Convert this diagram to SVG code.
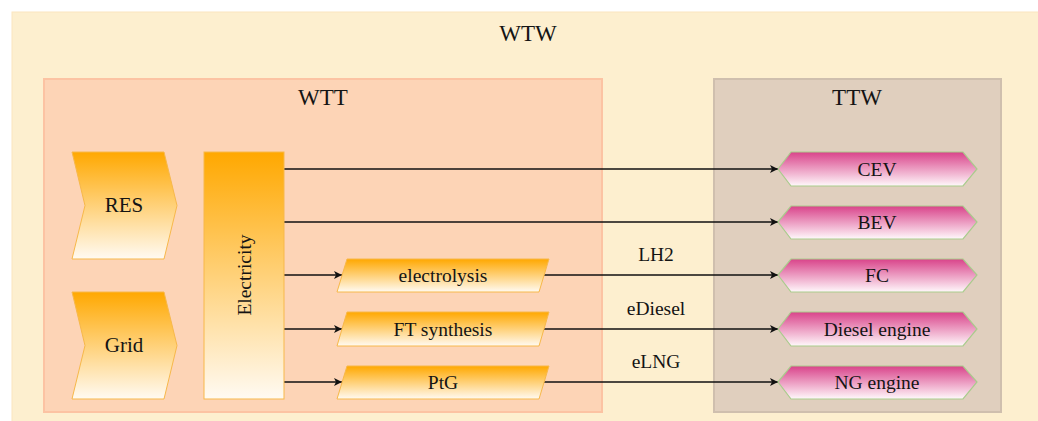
<svg xmlns="http://www.w3.org/2000/svg" width="1038" height="421" viewBox="0 0 1038 421">
<style>
text{font-family:"Liberation Serif","DejaVu Serif",serif;fill:#141414;text-anchor:middle;dominant-baseline:central}
.title{font-size:23px}
.lbl{font-size:19.5px}
.src{fill:url(#gOr);stroke:#f7b84a;stroke-width:1}
.veh{fill:url(#gPk);stroke:#a9cc8c;stroke-width:1.2}
.con{stroke:#111;stroke-width:1.3;fill:none;marker-end:url(#arr)}
</style>
<defs>
<linearGradient id="gOr" x1="0" y1="0" x2="0" y2="1">
<stop offset="0" stop-color="#ffa800"/>
<stop offset="1" stop-color="#fffaf2"/>
</linearGradient>
<linearGradient id="gPk" x1="0" y1="0" x2="0" y2="1">
<stop offset="0" stop-color="#d9438a"/>
<stop offset="1" stop-color="#fff8fb"/>
</linearGradient>
<marker id="arr" viewBox="0 0 10 10" refX="10" refY="5" markerWidth="8" markerHeight="8" markerUnits="userSpaceOnUse" orient="auto">
<path d="M0,0 L10,5 L0,10 L2.5,5 Z" fill="#111"/>
</marker>
</defs>
<g id="wtw">
<rect x="12" y="12" width="1030" height="412" fill="#fdefcf" stroke="#fbe6c0" stroke-width="1"/>
<text class="title" x="528" y="33">WTW</text>
</g>
<g id="wtt">
<rect x="44" y="79" width="558" height="333" fill="#fdd4b6" stroke="#fcc3a3" stroke-width="2"/>
<text class="title" x="323" y="97">WTT</text>
</g>
<g id="ttw">
<rect x="714" y="79" width="287" height="333" fill="#e0cfbe" stroke="#cfbfae" stroke-width="2"/>
<text class="title" x="857" y="97">TTW</text>
</g>
<g id="connectors">
<line class="con" x1="284" y1="169" x2="778" y2="169"/>
<line class="con" x1="284" y1="222" x2="778" y2="222"/>
<line class="con" x1="284" y1="275" x2="342" y2="275"/>
<line class="con" x1="284" y1="329" x2="342" y2="329"/>
<line class="con" x1="284" y1="382" x2="342" y2="382"/>
<line class="con" x1="544" y1="275" x2="778" y2="275"/>
<line class="con" x1="544" y1="329" x2="778" y2="329"/>
<line class="con" x1="544" y1="382" x2="778" y2="382"/>
<text class="lbl" x="656" y="254">LH2</text>
<text class="lbl" x="656" y="308">eDiesel</text>
<text class="lbl" x="656" y="361">eLNG</text>
</g>
<g id="res">
<polygon class="src" points="72,152 164,152 177,205.5 164,259 72,259 85,205.5"/>
<text class="lbl" x="124" y="205" style="font-size:21px">RES</text>
</g>
<g id="grid">
<polygon class="src" points="72,292 164,292 177,345.5 164,399 72,399 85,345.5"/>
<text class="lbl" x="124" y="345" style="font-size:21px">Grid</text>
</g>
<g id="electricity">
<rect class="src" x="204" y="152" width="80" height="247"/>
<text class="lbl" x="0" y="0" transform="translate(244,275) rotate(-90)">Electricity</text>
</g>
<g id="electrolysis">
<polygon class="src" points="347,259 549,259 539,292 337,292"/>
<text class="lbl" x="443" y="275">electrolysis</text>
</g>
<g id="ft">
<polygon class="src" points="347,312 549,312 539,346 337,346"/>
<text class="lbl" x="443" y="329">FT synthesis</text>
</g>
<g id="ptg">
<polygon class="src" points="347,366 549,366 539,399 337,399"/>
<text class="lbl" x="443" y="382">PtG</text>
</g>
<g id="cev">
<polygon class="veh" points="778,169 791,152 963,152 977,169 963,186 791,186"/>
<text class="lbl" x="877" y="169">CEV</text>
</g>
<g id="bev">
<polygon class="veh" points="778,222 791,206 963,206 977,222 963,239 791,239"/>
<text class="lbl" x="877" y="222">BEV</text>
</g>
<g id="fc">
<polygon class="veh" points="778,275 791,259 963,259 977,275 963,292 791,292"/>
<text class="lbl" x="877" y="275">FC</text>
</g>
<g id="diesel">
<polygon class="veh" points="778,329 791,312 963,312 977,329 963,346 791,346"/>
<text class="lbl" x="877" y="329">Diesel engine</text>
</g>
<g id="ng">
<polygon class="veh" points="778,382 791,366 963,366 977,382 963,399 791,399"/>
<text class="lbl" x="877" y="382">NG engine</text>
</g>
</svg>
